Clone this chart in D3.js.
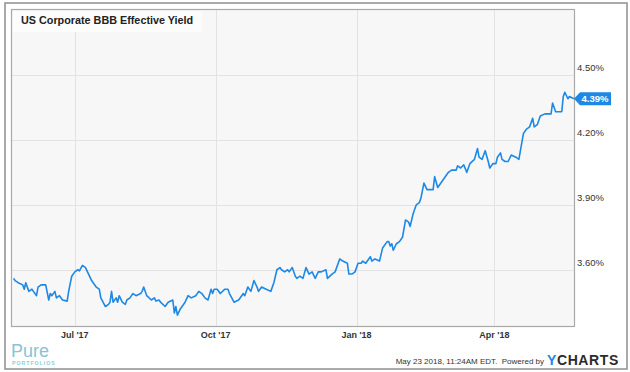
<!DOCTYPE html>
<html>
<head>
<meta charset="utf-8">
<script src="https://cdn.jsdelivr.net/npm/d3@7"></script>
<style>
  body { margin: 0; background: #fff; }
  text { font-family: "Liberation Sans", Arial, sans-serif; }
</style>
</head>
<body>
<div id="chart"></div>
<script>
// series, one point per trading day-ish
const dates = [
  "2017-05-22","2017-05-23","2017-05-25","2017-05-28","2017-05-29","2017-05-30","2017-06-01","2017-06-03","2017-06-04","2017-06-06",
  "2017-06-07","2017-06-09","2017-06-12","2017-06-14","2017-06-15","2017-06-16","2017-06-18","2017-06-19","2017-06-21","2017-06-23",
  "2017-06-26","2017-06-27","2017-06-29","2017-07-01","2017-07-03","2017-07-04","2017-07-06","2017-07-08","2017-07-10","2017-07-12",
  "2017-07-13","2017-07-15","2017-07-17","2017-07-18","2017-07-21","2017-07-23","2017-07-24","2017-07-25","2017-07-26","2017-07-28",
  "2017-07-29","2017-07-30","2017-08-01","2017-08-03","2017-08-04","2017-08-06","2017-08-08","2017-08-10","2017-08-13","2017-08-14",
  "2017-08-15","2017-08-17","2017-08-20","2017-08-22","2017-08-23","2017-08-25","2017-08-26","2017-08-29","2017-08-31","2017-09-03",
  "2017-09-04","2017-09-05","2017-09-06","2017-09-08","2017-09-11","2017-09-13","2017-09-15","2017-09-18","2017-09-20","2017-09-22",
  "2017-09-24","2017-09-26","2017-09-28","2017-09-29","2017-09-30","2017-10-02","2017-10-04","2017-10-07","2017-10-09","2017-10-10",
  "2017-10-13","2017-10-16","2017-10-18","2017-10-19","2017-10-20","2017-10-22","2017-10-24","2017-10-26","2017-10-28","2017-10-29",
  "2017-10-31","2017-11-03","2017-11-06","2017-11-08","2017-11-10","2017-11-12","2017-11-13","2017-11-15","2017-11-17","2017-11-18",
  "2017-11-20","2017-11-22","2017-11-23","2017-11-25","2017-11-27","2017-11-29","2017-12-01","2017-12-03","2017-12-05","2017-12-07",
  "2017-12-09","2017-12-12","2017-12-13","2017-12-16","2017-12-18","2017-12-21","2017-12-23","2017-12-26","2017-12-27","2017-12-29",
  "2017-12-31","2018-01-02","2018-01-04","2018-01-05","2018-01-07","2018-01-10","2018-01-11","2018-01-13","2018-01-16","2018-01-18",
  "2018-01-21","2018-01-22","2018-01-23","2018-01-24","2018-01-25","2018-01-27","2018-01-29","2018-01-31","2018-02-02","2018-02-04",
  "2018-02-05","2018-02-07","2018-02-09","2018-02-11","2018-02-12","2018-02-14","2018-02-16","2018-02-20","2018-02-21","2018-02-23",
  "2018-02-26","2018-02-27","2018-03-02","2018-03-04","2018-03-07","2018-03-08","2018-03-10","2018-03-12","2018-03-14","2018-03-16",
  "2018-03-19","2018-03-21","2018-03-22","2018-03-24","2018-03-26","2018-03-28","2018-03-29","2018-03-31","2018-04-02","2018-04-03",
  "2018-04-05","2018-04-06","2018-04-08","2018-04-10","2018-04-12","2018-04-15","2018-04-17","2018-04-20","2018-04-22","2018-04-24",
  "2018-04-26","2018-04-27","2018-04-29","2018-05-01","2018-05-04","2018-05-06","2018-05-08","2018-05-09","2018-05-11","2018-05-14",
  "2018-05-15","2018-05-16","2018-05-17","2018-05-19","2018-05-20","2018-05-23"
];
const yields = [
  3.56,3.55,3.54,3.53,3.51,3.54,3.50,3.51,3.50,3.48,
  3.52,3.53,3.53,3.46,3.49,3.48,3.50,3.47,3.48,3.46,
  3.455,3.50,3.57,3.59,3.60,3.595,3.62,3.61,3.58,3.55,
  3.54,3.52,3.51,3.47,3.43,3.44,3.45,3.50,3.45,3.47,
  3.45,3.48,3.45,3.44,3.46,3.47,3.49,3.48,3.49,3.50,
  3.52,3.48,3.46,3.47,3.455,3.46,3.45,3.43,3.45,3.46,
  3.40,3.43,3.39,3.42,3.45,3.48,3.47,3.48,3.50,3.49,
  3.47,3.46,3.51,3.49,3.51,3.51,3.49,3.51,3.51,3.49,
  3.45,3.46,3.48,3.49,3.48,3.52,3.50,3.55,3.52,3.50,
  3.52,3.51,3.50,3.54,3.60,3.61,3.60,3.59,3.60,3.59,
  3.61,3.57,3.56,3.57,3.56,3.61,3.58,3.59,3.56,3.59,
  3.59,3.60,3.56,3.58,3.59,3.65,3.64,3.63,3.58,3.58,
  3.59,3.63,3.63,3.64,3.63,3.66,3.64,3.65,3.64,3.70,
  3.73,3.73,3.71,3.72,3.69,3.72,3.73,3.75,3.83,3.82,
  3.80,3.86,3.90,3.91,3.93,4.00,3.97,3.97,4.03,3.98,
  4.01,4.02,4.05,4.06,4.06,4.08,4.07,4.085,4.05,4.09,
  4.11,4.16,4.12,4.11,4.15,4.10,4.07,4.09,4.09,4.12,
  4.14,4.11,4.10,4.10,4.13,4.12,4.11,4.23,4.25,4.26,
  4.30,4.26,4.27,4.31,4.32,4.32,4.32,4.37,4.33,4.33,
  4.33,4.40,4.42,4.39,4.40,4.39
];
const yTicks = [3.6, 3.9, 4.2, 4.5];
const xTicks = ["2017-07-01", "2017-10-01", "2018-01-01", "2018-04-01"];
const xTickLabels = ["Jul '17", "Oct '17", "Jan '18", "Apr '18"];
const title = "US Corporate BBB Effective Yield";
const stamp = "May 23 2018, 11:24AM EDT.  Powered by";

const width = 630, height = 372;
const plot = {left: 12, top: 10, right: 574, bottom: 326};
const blue = "#1e88e5";

const parse = d3.timeParse("%Y-%m-%d");
const data = dates.map((d, i) => ({date: parse(d), value: yields[i]}));

var x = d3.scaleTime()
  .domain([parse("2017-05-21"), parse("2018-05-23")])
  .range([plot.left, plot.right]);
var y = d3.scaleLinear()
  .domain([3.34, 4.80])
  .range([plot.bottom, plot.top]);

const svg = d3.select("#chart").append("svg").attr("width", width).attr("height", height);

// outer frame
svg.append("rect").attr("x", 5).attr("y", 3).attr("width", 622).attr("height", 366)
  .attr("fill", "#fff").attr("stroke", "#8f8f8f").attr("stroke-width", 1.5);

// plot background
svg.append("rect").attr("x", plot.left).attr("y", plot.top)
  .attr("width", plot.right - plot.left).attr("height", plot.bottom - plot.top)
  .attr("fill", "#f7f7f7");

// grid
svg.append("g").selectAll("line").data(yTicks).enter().append("line")
  .attr("x1", plot.left).attr("x2", plot.right)
  .attr("y1", d => Math.round(y(d)) + 0.5).attr("y2", d => Math.round(y(d)) + 0.5)
  .attr("stroke", "#e3e3e3");
svg.append("g").selectAll("line").data(xTicks).enter().append("line")
  .attr("y1", plot.top).attr("y2", plot.bottom)
  .attr("x1", d => Math.round(x(parse(d))) + 0.5).attr("x2", d => Math.round(x(parse(d))) + 0.5)
  .attr("stroke", "#e3e3e3");

// title box
svg.append("rect").attr("x", plot.left + 1).attr("y", plot.top + 1).attr("width", 189).attr("height", 21)
  .attr("fill", "#fcfcfc");
svg.append("text").attr("x", 21).attr("y", 24)
  .attr("font-size", "10.8px").attr("font-weight", "bold").attr("fill", "#222")
  .text(title);

// line
var line = d3.line().x(d => x(d.date)).y(d => y(d.value));
svg.append("path").datum(data).attr("d", line)
  .attr("fill", "none").attr("stroke", blue).attr("stroke-width", 1.6)
  .attr("stroke-linejoin", "round");

// plot border
svg.append("rect").attr("x", plot.left - 0.5).attr("y", plot.top - 0.5)
  .attr("width", plot.right - plot.left + 1).attr("height", plot.bottom - plot.top + 1)
  .attr("fill", "none").attr("stroke", "#a9a9a9").attr("stroke-width", 1.2);

// y labels sit just above their grid line
svg.append("g").selectAll("text").data(yTicks).enter().append("text")
  .attr("x", 577).attr("y", d => y(d) - 3.5)
  .attr("font-size", "9.5px").attr("fill", "#333")
  .text(d => d.toFixed(2) + "%");

// x labels
svg.append("g").selectAll("text").data(xTicks).enter().append("text")
  .attr("x", d => x(parse(d))).attr("y", 338)
  .attr("text-anchor", "middle").attr("font-size", "9px").attr("font-weight", "bold").attr("fill", "#333")
  .text((d, i) => xTickLabels[i]);

// last value tag
const last = data[data.length - 1];
const ty = y(last.value);
svg.append("path")
  .attr("d", `M${plot.right},${ty} L${plot.right + 6},${ty - 6.5} L611,${ty - 6.5} L611,${ty + 6.5} L${plot.right + 6},${ty + 6.5} Z`)
  .attr("fill", blue);
svg.append("text").attr("x", 595).attr("y", ty + 3.5)
  .attr("text-anchor", "middle").attr("font-size", "9.5px").attr("font-weight", "bold").attr("fill", "#fff")
  .text(last.value.toFixed(2) + "%");

// Pure Portfolios logo
svg.append("text").attr("x", 11).attr("y", 357)
  .attr("font-family", "Lato, sans-serif").attr("font-weight", 300).attr("font-size", "18px")
  .attr("fill", "#86c4d6").text("Pure");
svg.append("text").attr("x", 12).attr("y", 365)
  .attr("font-family", "Lato, sans-serif").attr("font-weight", "bold").attr("font-size", "5.2px").attr("letter-spacing", 1)
  .attr("fill", "#86d0dc").text("PORTFOLIOS");

// footer
svg.append("text").attr("x", 544).attr("y", 364)
  .attr("text-anchor", "end").attr("font-size", "8px").attr("fill", "#333")
  .style("white-space", "pre").text(stamp);
var yc = svg.append("text").attr("x", 547).attr("y", 364.5)
  .attr("font-size", "14px").attr("font-weight", "bold").attr("letter-spacing", 0.6);
yc.append("tspan").attr("fill", blue).text("Y");
yc.append("tspan").attr("fill", "#2b2b2b").text("CHARTS");
</script>
</body>
</html>
